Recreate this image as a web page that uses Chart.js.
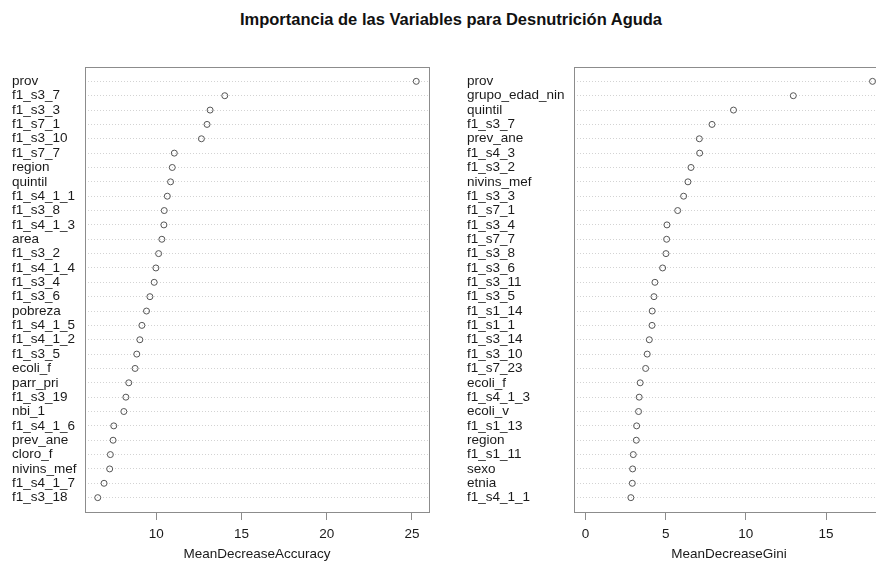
<!DOCTYPE html>
<html>
<head>
<meta charset="utf-8">
<script src="https://cdn.jsdelivr.net/npm/chart.js@4/dist/chart.umd.min.js"></script>
<style>
  html, body { margin: 0; padding: 0; background: #fff; overflow: hidden; width: 876px; height: 562px; }
  #title { position: absolute; left: 0; top: 10px; width: 902px; text-align: center;
           font: bold 16.5px "Liberation Sans", Arial, sans-serif; color: #111; }
  .panel { position: absolute; top: 0; height: 562px; }
  #accWrap { left: 0; width: 440px; }
  #giniWrap { left: 440px; width: 460px; }
</style>
</head>
<body>
<div id="title">Importancia de las Variables para Desnutrición Aguda</div>
<div class="panel" id="accWrap"><canvas id="acc" width="440" height="562"></canvas></div>
<div class="panel" id="giniWrap"><canvas id="gini" width="460" height="562"></canvas></div>
<script>
// Variable importance, Mean Decrease Accuracy (top to bottom)
const accNames = ["prov", "f1_s3_7", "f1_s3_3", "f1_s7_1", "f1_s3_10", "f1_s7_7", "region", "quintil",
  "f1_s4_1_1", "f1_s3_8", "f1_s4_1_3", "area", "f1_s3_2", "f1_s4_1_4", "f1_s3_4", "f1_s3_6",
  "pobreza", "f1_s4_1_5", "f1_s4_1_2", "f1_s3_5", "ecoli_f", "parr_pri", "f1_s3_19", "nbi_1",
  "f1_s4_1_6", "prev_ane", "cloro_f", "nivins_mef", "f1_s4_1_7", "f1_s3_18"];
const accValues = [25.25, 14.02, 13.16, 12.98, 12.65, 11.06, 10.94, 10.84,
  10.65, 10.47, 10.45, 10.33, 10.14, 9.98, 9.88, 9.63,
  9.43, 9.16, 9.04, 8.86, 8.76, 8.39, 8.22, 8.10,
  7.51, 7.47, 7.31, 7.27, 6.94, 6.57];
const accTicks = [10, 15, 20, 25];

// Variable importance, Mean Decrease Gini (top to bottom)
const giniNames = ["prov", "grupo_edad_nin", "quintil", "f1_s3_7", "prev_ane", "f1_s4_3", "f1_s3_2",
  "nivins_mef", "f1_s3_3", "f1_s7_1", "f1_s3_4", "f1_s7_7", "f1_s3_8", "f1_s3_6", "f1_s3_11",
  "f1_s3_5", "f1_s1_14", "f1_s1_1", "f1_s3_14", "f1_s3_10", "f1_s7_23", "ecoli_f", "f1_s4_1_3",
  "ecoli_v", "f1_s1_13", "region", "f1_s1_11", "sexo", "etnia", "f1_s4_1_1"];
const giniValues = [17.9, 12.96, 9.23, 7.89, 7.10, 7.12, 6.58,
  6.39, 6.12, 5.75, 5.08, 5.06, 5.02, 4.81, 4.33,
  4.27, 4.16, 4.15, 3.98, 3.85, 3.75, 3.41, 3.35,
  3.31, 3.19, 3.17, 2.98, 2.94, 2.92, 2.83];
const giniTicks = [0, 5, 10, 15];

const FONT = { family: '"Liberation Sans", Arial, sans-serif', size: 13.5 };
const INK = '#1a1a1a';
const FRAME = '#8c8c8c';

// Full box around the plotting region
const framePlugin = {
  id: 'frame',
  afterDatasetsDraw(chart) {
    const { ctx, chartArea: a } = chart;
    ctx.save();
    ctx.strokeStyle = FRAME;
    ctx.lineWidth = 1;
    ctx.strokeRect(Math.round(a.left) + 0.5, Math.round(a.top) + 0.5,
                   Math.round(a.right - a.left), Math.round(a.bottom - a.top));
    ctx.restore();
  }
};

function dotPanel(id, names, values, tickValues, axisTitle, lo, hi, padding, labelBand) {
  const points = values.map((v, i) => ({ x: v, y: i + 1 }));
  return new Chart(document.getElementById(id), {
    type: 'scatter',
    data: {
      datasets: [{
        data: points,
        showLine: false,
        pointStyle: 'circle',
        pointRadius: 3,
        pointHoverRadius: 3,
        pointBorderWidth: 1,
        pointBorderColor: '#555',
        pointBackgroundColor: 'rgba(255,255,255,0)'
      }]
    },
    options: {
      responsive: false,
      animation: false,
      events: [],
      layout: { padding },
      plugins: { legend: { display: false }, tooltip: { enabled: false } },
      scales: {
        x: {
          type: 'linear', min: lo, max: hi,
          afterBuildTicks(s) { s.ticks = tickValues.map(v => ({ value: v })); },
          afterFit(s) { s.height = 50; },
          grid: { drawOnChartArea: false, drawTicks: true, tickLength: 8, color: FRAME, lineWidth: 1 },
          border: { display: false },
          ticks: { font: FONT, color: INK, padding: 6, maxRotation: 0, autoSkip: false,
                   callback: v => String(v) },
          title: { display: true, text: axisTitle, font: FONT, color: INK, padding: { top: 0, bottom: 0 } }
        },
        y: {
          type: 'linear', reverse: true, min: 0, max: names.length + 1,
          afterBuildTicks(s) { s.ticks = names.map((n, i) => ({ value: i + 1 })); },
          afterFit(s) { s.width = labelBand; },
          grid: { drawTicks: false, color: '#d3d3d3', lineWidth: 1 },
          border: { display: false, dash: [1, 2] },
          ticks: { font: FONT, color: INK, crossAlign: 'far', padding: 0, autoSkip: false,
                   callback: (v, i) => names[i] }
        }
      }
    },
    plugins: [framePlugin]
  });
}

const accMin = Math.min(...accValues), accMax = Math.max(...accValues);
const accSpan = accMax - accMin;
dotPanel('acc', accNames, accValues, accTicks, 'MeanDecreaseAccuracy',
  accMin - 0.04 * accSpan, accMax + 0.04 * accSpan,
  { left: 12, top: 67, right: 11, bottom: 0 }, 73);

const giniMax = Math.max(...giniValues);
dotPanel('gini', giniNames, giniValues, giniTicks, 'MeanDecreaseGini',
  -0.04 * giniMax, 1.04 * giniMax,
  { left: 27, top: 67, right: 16, bottom: 0 }, 107);
</script>
</body>
</html>
